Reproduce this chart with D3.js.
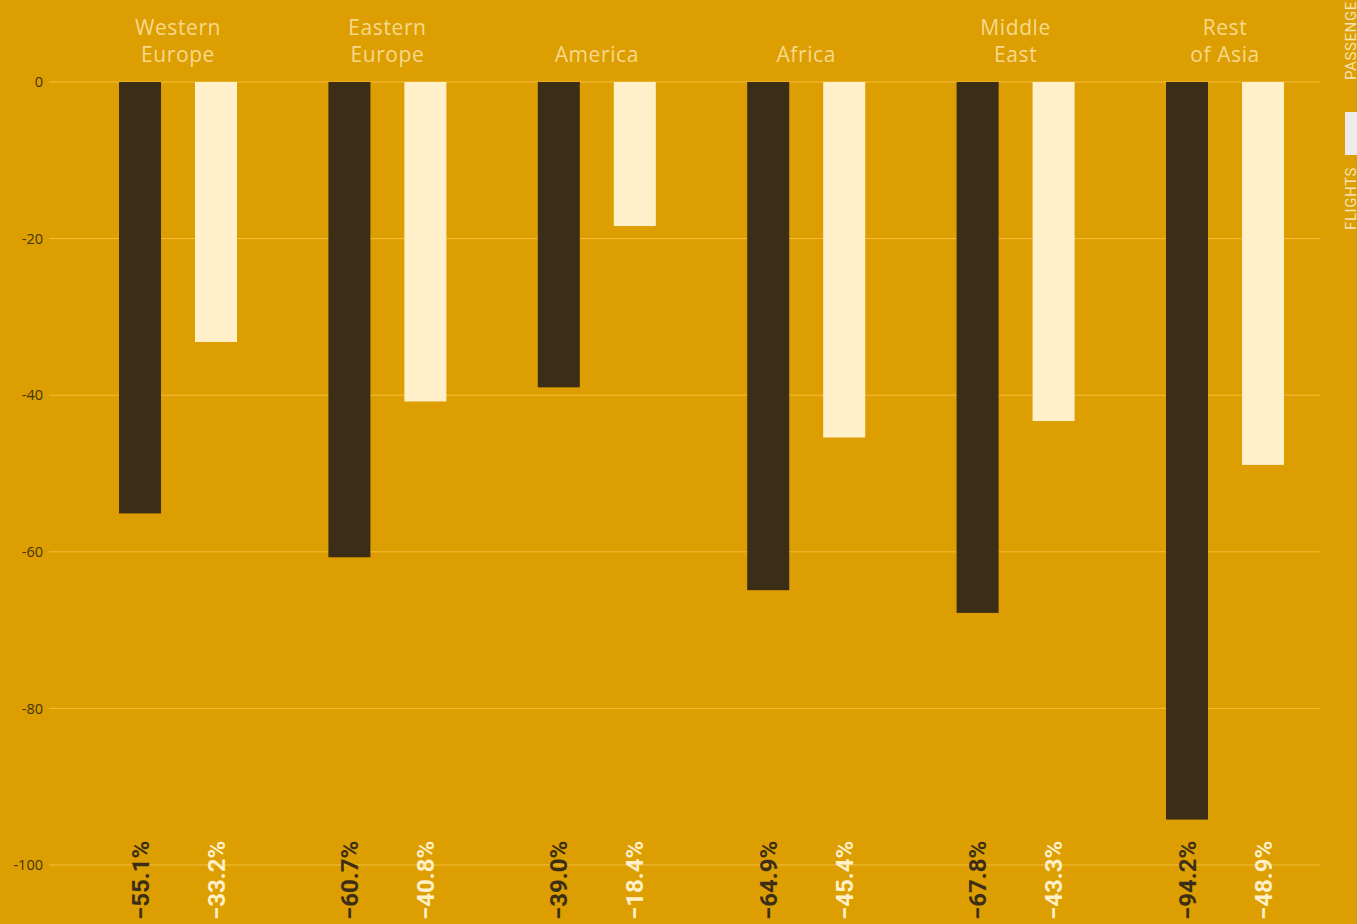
<!DOCTYPE html>
<html>
<head>
<meta charset="utf-8">
<script src="https://cdn.jsdelivr.net/npm/d3@7"></script>
<style>
  html, body { margin: 0; padding: 0; background: #DC9E00; overflow: hidden; }
  svg { display: block; }
</style>
</head>
<body>
<svg id="chart" width="1357" height="924"></svg>
<script>
const regions = ["Western Europe", "Eastern Europe", "America", "Africa", "Middle East", "Rest of Asia"];
const regionLines = [["Western", "Europe"], ["Eastern", "Europe"], ["America"], ["Africa"], ["Middle", "East"], ["Rest", "of Asia"]];
const seriesKeys = ["flights", "passengers"];
const flights = [-55.1, -60.7, -39.0, -64.9, -67.8, -94.2];
const passengers = [-33.2, -40.8, -18.4, -45.4, -43.3, -48.9];
const yTicks = [0, -20, -40, -60, -80, -100];

const colors = { flights: "#3C2E16", passengers: "#FFF0C9" };
const labelColors = { flights: "#3C2E16", passengers: "#FFF0C9" };

const svg = d3.select("#chart");

const x0 = d3.scaleBand().domain(regions).range([73.3, 1329.7]);
const x1 = d3.scaleBand().domain(seriesKeys).range([-59, 59]).paddingInner(0.447);
const y = d3.scaleLinear().domain([0, -100]).range([82, 865]);

// grid
svg.append("g").selectAll("line").data(yTicks).join("line")
  .attr("x1", 49).attr("x2", 1320)
  .attr("y1", d => y(d)).attr("y2", d => y(d))
  .attr("stroke", "#F5BE3A").attr("stroke-width", 1);

// axis
const yAxis = d3.axisLeft(y).tickValues(yTicks).tickSize(0).tickPadding(0).tickFormat(d => d);
const gAxis = svg.append("g").attr("transform", "translate(43,0)").call(yAxis);
gAxis.select(".domain").remove();
gAxis.selectAll("text")
  .attr("fill", "#45340C")
  .style("font-family", "'Open Sans', sans-serif")
  .style("font-size", "14.5px");

const data = regions.map((r, i) => ({ region: r, flights: flights[i], passengers: passengers[i] }));

// bars
const groups = svg.append("g").selectAll("g").data(data).join("g")
  .attr("transform", d => `translate(${x0(d.region) + x0.bandwidth() / 2},0)`);

groups.selectAll("rect").data(d => seriesKeys.map(k => ({ key: k, value: d[k] }))).join("rect")
  .attr("x", d => x1(d.key))
  .attr("width", x1.bandwidth())
  .attr("y", y(0))
  .attr("height", d => y(d.value) - y(0))
  .attr("fill", d => colors[d.key]);

// value labels
groups.selectAll("text.val").data(d => seriesKeys.map(k => ({ key: k, value: d[k] }))).join("text")
  .attr("class", "val")
  .attr("transform", d => `translate(${x1(d.key) + x1.bandwidth() / 2},920) rotate(-90)`)
  .attr("dy", "0.36em")
  .attr("text-anchor", "start")
  .attr("fill", d => labelColors[d.key])
  .style("font-family", "Roboto, sans-serif")
  .style("font-weight", "700")
  .style("font-size", "24px")
  .text(d => "\u2212" + Math.abs(d.value).toFixed(1) + "%");

// headers (one text per line)
groups.each(function(d, i) {
  const lines = regionLines[i];
  const startY = lines.length === 2 ? 35 : 62;
  d3.select(this).selectAll("text.hdr").data(lines).join("text")
    .attr("class", "hdr")
    .attr("x", 0)
    .attr("y", (ln, j) => startY + j * 27)
    .attr("text-anchor", "middle")
    .attr("fill", "#F7D98C")
    .style("font-family", "'Open Sans', sans-serif")
    .style("font-weight", "400")
    .style("font-size", "21px")
    .style("letter-spacing", "0.6px")
    .text(ln => ln);
});

// side toggle
svg.append("rect").attr("x", 1345).attr("y", 112).attr("width", 12).attr("height", 43).attr("fill", "#ECECEC");
svg.append("text")
  .attr("transform", "translate(1356,80) rotate(-90)")
  .attr("fill", "#F6E3B6")
  .style("font-family", "Roboto, sans-serif")
  .style("font-size", "15px")
  .style("letter-spacing", "0.6px")
  .text("PASSENGERS");
svg.append("text")
  .attr("transform", "translate(1356,230) rotate(-90)")
  .attr("fill", "#F6E3B6")
  .style("font-family", "Roboto, sans-serif")
  .style("font-size", "15px")
  .style("letter-spacing", "0.6px")
  .text("FLIGHTS");
</script>
</body>
</html>
